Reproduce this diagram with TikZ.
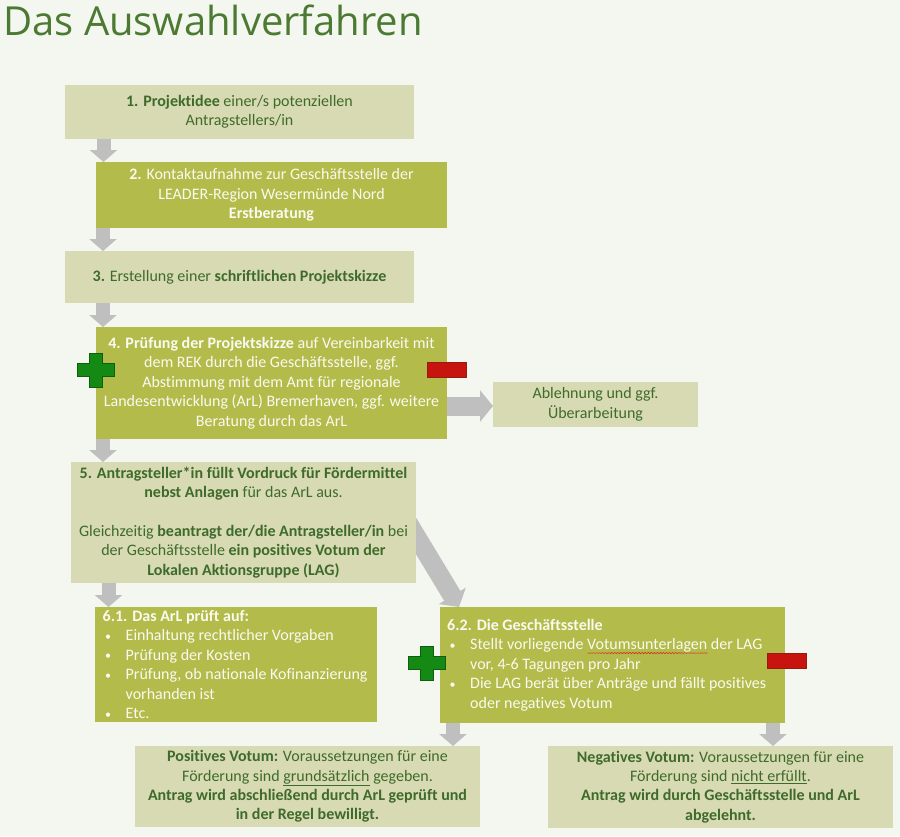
\documentclass[tikz,border=0pt]{standalone}
\usepackage{fontspec}
\setmainfont{Carlito}[Ligatures={NoCommon}]
\newfontfamily\titlefont{Open Sans}
\usetikzlibrary{arrows.meta,calc}
\pgfdeclarelayer{back}
\pgfdeclarelayer{arrows}
\pgfsetlayers{back,arrows,main}
\definecolor{bgcol}{HTML}{F4F7F0}
\definecolor{lightfill}{HTML}{D8DAB4}
\definecolor{darkfill}{HTML}{B3BB4B}
\definecolor{txtgreen}{HTML}{3E6B2A}
\definecolor{txtwhite}{HTML}{FAFAF0}
\definecolor{titlegreen}{HTML}{4C7A32}
\definecolor{arrgray}{HTML}{BFBFBF}
\definecolor{plusfill}{HTML}{148A14}
\definecolor{plusline}{HTML}{0E5E0E}
\definecolor{minusfill}{HTML}{C8140F}
\definecolor{minusline}{HTML}{9A1A10}
\definecolor{wavered}{HTML}{E02020}
\newsavebox\wavebox
\newlength\wavelen
\newcommand\redwave[1]{\sbox\wavebox{#1}\setlength\wavelen{\wd\wavebox}%
  \leavevmode\rlap{\raisebox{-3.2pt}[0pt][0pt]{\tikz[x=1pt,y=1pt,baseline=0pt]{%
    \pgfmathsetmacro\wvl{\wavelen}%
    \draw[wavered,line width=0.55pt] plot[domain=0:\wvl, samples=80] (\x,{0.8*sin(\x*120)});}}}%
  \usebox\wavebox}
\newcommand\bulitem{\makebox[23pt][l]{\hspace*{2.5pt}\raisebox{0.5pt}{\fontsize{12}{12}\selectfont•}}}
\newcommand\bulcont{\hspace*{23pt}}
\tikzset{
  box/.style={anchor=north west, inner sep=0pt, outer sep=0pt, align=center,
    font=\fontsize{16}{19.4}\selectfont},
  lightbox/.style={box, fill=lightfill, text=txtgreen},
  darkbox/.style={box, fill=darkfill, text=txtwhite},
  listtext/.style={anchor=west, inner sep=0pt, align=left, text=txtwhite,
    font=\fontsize{16}{19.4}\selectfont},
  darr/.style={draw=arrgray, line width=14pt, -{Triangle[width=27pt,length=12pt]}},
  warr/.style={draw=arrgray, line width=19pt, -{Triangle[width=31pt,length=13pt]}},
  minusbox/.style={anchor=north west, fill=minusfill, draw=minusline, line width=0.6pt,
    minimum width=39pt, minimum height=15pt, inner sep=0pt},
  plussign/.pic={\filldraw[fill=plusfill, draw=plusline, line width=0.6pt]
    (-18.5,-6.5) -- (-6.5,-6.5) -- (-6.5,-17) -- (6.5,-17) -- (6.5,-6.5) -- (18.5,-6.5)
    -- (18.5,6.5) -- (6.5,6.5) -- (6.5,17) -- (-6.5,17) -- (-6.5,6.5) -- (-18.5,6.5) -- cycle;}
}
\begin{document}
\begin{tikzpicture}[x=1pt,y=-1pt]
\useasboundingbox (0,0) rectangle (900,836);
\begin{pgfonlayer}{back}
\fill[bgcol] (0,0) rectangle (900,836);
\end{pgfonlayer}

\node[anchor=base west, inner sep=0pt, text=titlegreen,
  font=\titlefont\fontsize{40}{42}\selectfont] (title) at (3,35) {Das Auswahlverfahren};

\node[lightbox, minimum width=349pt, minimum height=54pt] (b1) at (65,85)
  {\textbf{1. Projektidee} einer/s potenziellen\\Antragstellers/in};
\node[darkbox, minimum width=351pt, minimum height=66pt] (b2) at (96,162)
  {\textbf{2.} Kontaktaufnahme zur Geschäftsstelle der\\LEADER-Region Wesermünde Nord\\\textbf{Erstberatung}};
\node[lightbox, minimum width=349pt, minimum height=52pt] (b3) at (65,251)
  {\textbf{3.} Erstellung einer \textbf{schriftlichen Projektskizze}};
\node[darkbox, minimum width=351pt, minimum height=112pt] (b4) at (96,327)
  {\textbf{4. Prüfung der Projektskizze} auf Vereinbarkeit mit\\dem REK durch die Geschäftsstelle, ggf.\\Abstimmung mit dem Amt für regionale\\Landesentwicklung (ArL) Bremerhaven, ggf. weitere\\Beratung durch das ArL};
\node[lightbox, minimum width=205pt, minimum height=45pt] (babl) at (493,382)
  {Ablehnung und ggf.\\Überarbeitung};
\node[lightbox, minimum width=345pt, minimum height=121pt] (b5) at (71,462)
  {\textbf{5. Antragsteller*in füllt Vordruck für Fördermittel}\\\textbf{nebst Anlagen} für das ArL aus.\\[19.4pt]Gleichzeitig \textbf{beantragt der/die Antragsteller/in} bei\\der Geschäftsstelle \textbf{ein positives Votum der}\\\textbf{Lokalen Aktionsgruppe (LAG)}};
\node[darkbox, minimum width=282pt, minimum height=115pt] (b61) at (95,607) {};
\node[darkbox, minimum width=345pt, minimum height=116pt] (b62) at (440,607) {};
\node[lightbox, minimum width=345pt, minimum height=81pt] (bpos) at (135,746)
  {\textbf{Positives Votum:} Voraussetzungen für eine\\Förderung sind \underline{grundsätzlich} gegeben.\\\textbf{Antrag wird abschließend durch ArL geprüft und}\\\textbf{in der Regel bewilligt.}};
\node[lightbox, minimum width=345pt, minimum height=82pt] (bneg) at (548,746)
  {\textbf{Negatives Votum:} Voraussetzungen für eine\\Förderung sind \underline{nicht erfüllt}.\\\textbf{Antrag wird durch Geschäftsstelle und ArL}\\\textbf{abgelehnt.}};

\node[listtext] (t61) at ([xshift=7.5pt]b61.west)
  {\textbf{6.1. Das ArL prüft auf:}\\
   \bulitem Einhaltung rechtlicher Vorgaben\\
   \bulitem Prüfung der Kosten\\
   \bulitem Prüfung, ob nationale Kofinanzierung\\
   \bulcont vorhanden ist\\
   \bulitem Etc.};
\node[listtext] (t62) at ([xshift=7pt]b62.west)
  {\textbf{6.2. Die Geschäftsstelle}\\
   \bulitem Stellt vorliegende \redwave{Votumsunterlagen} der LAG\\
   \bulcont vor, 4-6 Tagungen pro Jahr\\
   \bulitem Die LAG berät über Anträge und fällt positives\\
   \bulcont oder negatives Votum};

\coordinate (a4) at ($(b4.east)+(0,23)$);
\coordinate (a5) at ($(b5.east)+(-9,-1.5)$);
\begin{pgfonlayer}{arrows}
\draw[darr] ([xshift=38.5pt]b1.south west) -- ([xshift=38.5pt]b1.south west |- b2.north);
\draw[darr] ([xshift=7pt]b2.south west) -- ([xshift=7pt]b2.south west |- b3.north);
\draw[darr] ([xshift=38pt]b3.south west) -- ([xshift=38pt]b3.south west |- b4.north);
\draw[darr] ([xshift=7pt]b4.south west) -- ([xshift=7pt]b4.south west |- b5.north);
\draw[darr] ([xshift=37.5pt]b5.south west) -- ([xshift=37.5pt]b5.south west |- b61.north);
\draw[darr] ([xshift=13pt]b62.south west) -- ([xshift=13pt]b62.south west |- bpos.north);
\draw[darr] ([xshift=333pt]b62.south west) -- ([xshift=333pt]b62.south west |- bneg.north);
\draw[warr] (a4) -- (a4 -| babl.west);
\draw[warr] (a5) -- ([xshift=19pt]b62.north west);
\end{pgfonlayer}

\pic (plusA) at (96,370) {plussign};
\pic (plusB) at (427,663) {plussign};
\node[minusbox] (minusA) at (427,362) {};
\node[minusbox] (minusB) at (767,653) {};
\end{tikzpicture}
\end{document}
